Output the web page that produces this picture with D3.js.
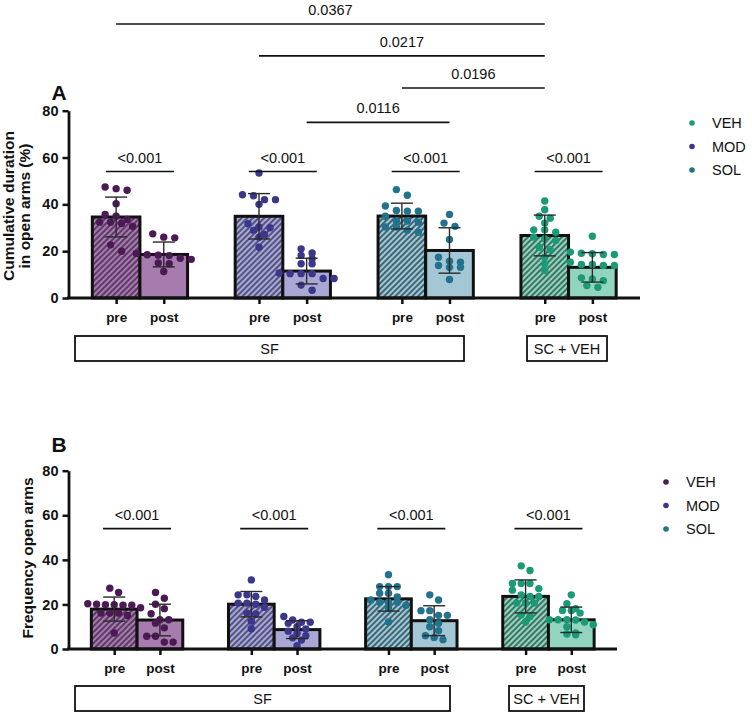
<!DOCTYPE html>
<html><head><meta charset="utf-8">
<script src="https://cdn.jsdelivr.net/npm/d3@7"></script>
<style>body{margin:0;background:#fff}svg{display:block;font-family:"Liberation Sans",Arial,Helvetica,sans-serif}</style>
</head><body><svg id="c" width="752" height="716"></svg>
<script>
// ---------- DATA ----------
const timepoints = ["pre", "post"];
const groupNames = ["SF VEH", "SF MOD", "SF SOL", "SC + VEH"];
const boxLabels = ["SF", "SC + VEH"];
const legendLabels = ["VEH", "MOD", "SOL"];
const yTicks = [0, 20, 40, 60, 80];

// Panel A: cumulative duration in open arms (%), bars in order pre/post per group
const meansA = [34.6, 18.6, 34.9, 11.5, 35.0, 20.3, 26.7, 13.1];
const sdA = [8.5, 5.3, 9.7, 5.5, 5.5, 9.7, 8.7, 6.3];
const pointsA = [
  [47.4, 46.7, 46.0, 40.3, 35.7, 34.9, 33.5, 32.4, 32.4, 31.8, 30.6, 22.7, 20.0],
  [27.4, 26.0, 25.7, 19.0, 18.5, 18.3, 18.1, 17.0, 16.5, 15.0, 14.6, 11.3],
  [53.4, 44.1, 43.7, 42.0, 42.0, 40.0, 31.7, 30.3, 30.0, 28.9, 27.1, 26.0, 21.7],
  [21.0, 19.2, 18.2, 16.8, 14.6, 14.6, 10.7, 10.4, 10.4, 10.4, 8.3, 8.3, 5.5, 3.3],
  [46.3, 43.9, 39.3, 37.4, 37.1, 37.1, 34.9, 32.9, 32.9, 32.4, 30.3, 30.3, 28.9, 28.1],
  [35.7, 32.0, 30.6, 25.0, 17.4, 15.7, 15.3, 13.9, 13.1, 13.1, 7.9],
  [41.4, 37.7, 34.9, 34.1, 32.0, 29.1, 29.1, 28.1, 26.0, 25.3, 24.6, 21.7, 20.6, 17.4, 14.6, 11.7],
  [26.4, 19.6, 19.1, 18.9, 18.6, 18.6, 15.3, 14.3, 14.3, 13.9, 13.9, 8.6, 8.1, 7.4, 5.3, 4.6]
];
// Panel B: frequency open arms
const meansB = [17.9, 13.0, 20.1, 8.7, 22.5, 12.7, 23.6, 13.1];
const sdB = [5.4, 7.1, 5.7, 4.0, 5.5, 6.7, 7.4, 5.7];
const pointsB = [
  [27.3, 25.4, 20.3, 20.1, 19.9, 19.9, 19.6, 19.6, 18.5, 16.1, 16.1, 16.1, 15.0, 7.2],
  [25.4, 22.8, 20.1, 18.1, 15.8, 13.1, 13.1, 11.6, 9.5, 5.7, 5.7, 3.1, 3.1],
  [31.0, 24.3, 24.3, 23.6, 22.0, 20.6, 20.6, 20.1, 18.7, 16.1, 15.7, 12.5, 9.1],
  [14.6, 13.0, 12.0, 12.0, 11.5, 10.0, 9.0, 8.0, 7.0, 6.0, 5.0, 4.0, 1.5],
  [33.3, 28.0, 28.0, 28.0, 25.0, 25.0, 23.3, 22.0, 21.0, 21.0, 21.0, 19.6, 18.4, 12.1],
  [24.3, 22.0, 17.2, 17.2, 15.1, 15.1, 13.1, 11.5, 10.0, 8.2, 6.0, 5.2, 4.2],
  [37.3, 35.2, 29.4, 29.4, 29.4, 27.1, 26.4, 24.3, 23.6, 23.6, 20.6, 20.6, 20.6, 15.4, 14.6, 12.1],
  [24.3, 20.3, 18.1, 17.3, 17.3, 16.1, 13.1, 13.1, 13.1, 13.0, 12.1, 10.9, 10.0, 7.2, 6.7, 6.4]
];
// pre vs post comparisons (one per group)
const pairP = ["<0.001", "<0.001", "<0.001", "<0.001"];
const pairLevel = 54;
// between-group comparisons in panel A (bar indices)
const bracketLabels = ["0.0367", "0.0217", "0.0196", "0.0116"];
const bracketFrom = [0, 2, 4, 3];
const bracketTo = [6, 6, 6, 5];
const bracketLevel = [117, 103.4, 89.7, 75.0];

// ---------- STYLE ----------
const dotColors = ["#4b1a55", "#3b378b", "#22728d", "#1b9a76"];
const lightFills = ["#a67bae", "#a9a8d4", "#a3c7d5", "#93d4be"];
const stripeColors = ["#55345e", "#4a4a78", "#325c69", "#35695a"];
const legendColorsA = [dotColors[3], dotColors[1], dotColors[2]];
const legendColorsB = [dotColors[0], dotColors[1], dotColors[2]];
const FONT = '"Liberation Sans",Arial,Helvetica,sans-serif';

const svg = d3.select("#c");
const defs = svg.append("defs");
stripeColors.forEach((c, i) => {
  const p = defs.append("pattern").attr("id", "hatch" + i)
    .attr("patternUnits", "userSpaceOnUse").attr("width", 4).attr("height", 4)
    .attr("patternTransform", "rotate(45)");
  p.append("rect").attr("width", 4).attr("height", 4).attr("fill", lightFills[i]);
  p.append("line").attr("x1", 1).attr("y1", 0).attr("x2", 1).attr("y2", 4)
    .attr("stroke", c).attr("stroke-width", 1.8);
});

const slotOf = i => Math.floor(i / 2) * 3 + (i % 2);

function swarmRows(vals, y, step, binH) {
  const pts = vals.map(v => ({ v, py: y(v) })).sort((a, b) => a.py - b.py);
  const rows = [];
  pts.forEach(p => {
    const last = rows[rows.length - 1];
    if (last && p.py - last[0].py < binH) last.push(p); else rows.push([p]);
  });
  rows.forEach(r => r.forEach((p, i) => { p.dx = (i - (r.length - 1) / 2) * step; }));
  return pts;
}

function drawPanel(cfg) {
  const g = svg.append("g");
  const x = d3.scaleLinear().domain([-1, 11]).range([cfg.x0, cfg.x1]);
  const y = d3.scaleLinear().domain([0, 80]).range([cfg.yb, cfg.yt]);
  const unit = x(1) - x(0);

  // bars
  cfg.means.forEach((m, i) => {
    const gi = Math.floor(i / 2);
    const cx = x(slotOf(i));
    g.append("rect")
      .attr("x", cx - unit / 2).attr("y", y(m))
      .attr("width", unit).attr("height", y(0) - y(m))
      .attr("fill", i % 2 === 0 ? "url(#hatch" + gi + ")" : lightFills[gi])
      .attr("stroke", "#111").attr("stroke-width", 3);
  });
  // dots
  cfg.points.forEach((vals, i) => {
    const gi = Math.floor(i / 2);
    const cx = x(slotOf(i));
    const pts = swarmRows(vals, y, cfg.step, 6.5);
    g.selectAll(null).data(pts).enter().append("circle")
      .attr("cx", d => cx + d.dx).attr("cy", d => d.py).attr("r", 3.7)
      .attr("fill", dotColors[gi]);
  });
  // error bars
  cfg.means.forEach((m, i) => {
    const cx = x(slotOf(i)), s = cfg.sd[i], cw = 11;
    const e = g.append("g").attr("stroke", "#2a2a2a").attr("stroke-width", 1.4);
    e.append("line").attr("x1", cx).attr("x2", cx).attr("y1", y(m - s)).attr("y2", y(m + s));
    e.append("line").attr("x1", cx - cw).attr("x2", cx + cw).attr("y1", y(m + s)).attr("y2", y(m + s));
    e.append("line").attr("x1", cx - cw).attr("x2", cx + cw).attr("y1", y(m - s)).attr("y2", y(m - s));
  });

  // axes
  const ya = g.append("g").attr("transform", `translate(${cfg.x0},0)`)
    .call(d3.axisLeft(y).tickValues(yTicks).tickSize(6).tickSizeOuter(0).tickPadding(4));
  const xa = g.append("g").attr("transform", `translate(0,${cfg.yb})`)
    .call(d3.axisBottom(x).tickValues(d3.range(8).map(slotOf)).tickSize(6).tickSizeOuter(0).tickPadding(8)
      .tickFormat((d, i) => timepoints[i % 2]));
  [ya, xa].forEach(a => {
    a.select(".domain").attr("stroke", "#111").attr("stroke-width", 2.8);
    a.selectAll(".tick line").attr("stroke", "#111").attr("stroke-width", 2.5);
    a.selectAll(".tick text").attr("fill", "#111").attr("font-family", FONT).attr("font-weight", "bold");
  });
  ya.selectAll(".tick text").attr("font-size", 14.5);
  xa.selectAll(".tick text").attr("font-size", 13.5);
  xa.select(".domain").attr("d", `M${cfg.x0 - 1.4},0H${cfg.x1}`);

  // axis title
  const t = g.append("text").attr("transform", `translate(0,${cfg.titleY}) rotate(-90)`)
    .attr("text-anchor", "middle").attr("font-weight", "bold").attr("font-size", 15.5).attr("fill", "#111");
  cfg.title.forEach((line, k) => t.append("tspan").attr("x", 0).attr("y", cfg.titleX[k]).text(line));

  // panel letter
  g.append("text").attr("x", 59).attr("y", cfg.letterY).attr("text-anchor", "middle")
    .attr("font-weight", "bold").attr("font-size", 21).attr("fill", "#111").text(cfg.letter);

  // pre vs post comparisons
  pairP.forEach((lab, k) => {
    const cx = (x(slotOf(2 * k)) + x(slotOf(2 * k + 1))) / 2;
    const ly = y(pairLevel);
    g.append("line").attr("x1", cx - 34).attr("x2", cx + 34).attr("y1", ly).attr("y2", ly)
      .attr("stroke", "#111").attr("stroke-width", 1.6);
    g.append("text").attr("x", cx).attr("y", ly - 9).attr("text-anchor", "middle")
      .attr("font-size", 14.5).attr("fill", "#111").text(lab);
  });

  // between-group brackets
  if (cfg.brackets) {
    bracketLabels.forEach((lab, k) => {
      const xa1 = x(slotOf(bracketFrom[k])), xa2 = x(slotOf(bracketTo[k]));
      const ly = y(bracketLevel[k]);
      g.append("line").attr("x1", xa1).attr("x2", xa2).attr("y1", ly).attr("y2", ly)
        .attr("stroke", "#111").attr("stroke-width", 1.6);
      g.append("text").attr("x", (xa1 + xa2) / 2).attr("y", ly - 9).attr("text-anchor", "middle")
        .attr("font-size", 14.5).attr("fill", "#111").text(lab);
    });
  }

  // group boxes
  const boxes = [[cfg.sfBox[0], cfg.sfBox[1]], [cfg.scBox[0], cfg.scBox[1]]];
  boxes.forEach((b, k) => {
    g.append("rect").attr("x", b[0]).attr("y", cfg.boxY).attr("width", b[1] - b[0]).attr("height", 25)
      .attr("fill", "none").attr("stroke", "#111").attr("stroke-width", 1.8);
    g.append("text").attr("x", (b[0] + b[1]) / 2).attr("y", cfg.boxY + 17.5).attr("text-anchor", "middle")
      .attr("font-size", 14.5).attr("fill", "#111").text(boxLabels[k]);
  });

  // legend
  legendLabels.forEach((lab, k) => {
    const ly = cfg.legendY + k * 23.5;
    g.append("circle").attr("cx", cfg.legendX).attr("cy", ly).attr("r", 2.8).attr("fill", cfg.legendColors[k]);
    g.append("text").attr("x", cfg.legendX + 20).attr("y", ly + 5).attr("font-size", 14.5)
      .attr("fill", "#111").text(lab);
  });
}

drawPanel({
  letter: "A", letterY: 100, x0: 68.5, x1: 640, yb: 298, yt: 110.7,
  means: meansA, sd: sdA, points: pointsA, step: 11,
  title: ["Cumulative duration", "in open arms (%)"], titleX: [14, 30], titleY: 206,
  brackets: true, boxY: 336, sfBox: [75, 464], scBox: [527, 607],
  legendX: 692, legendY: 123, legendColors: legendColorsA
});
drawPanel({
  letter: "B", letterY: 452, x0: 68.5, x1: 617, yb: 649, yt: 470.7,
  means: meansB, sd: sdB, points: pointsB, step: 8.8,
  title: ["Frequency open arms"], titleX: [33], titleY: 558,
  brackets: false, boxY: 686, sfBox: [75, 450], scBox: [509, 584],
  legendX: 666, legendY: 482, legendColors: legendColorsB
});
</script></body></html>
